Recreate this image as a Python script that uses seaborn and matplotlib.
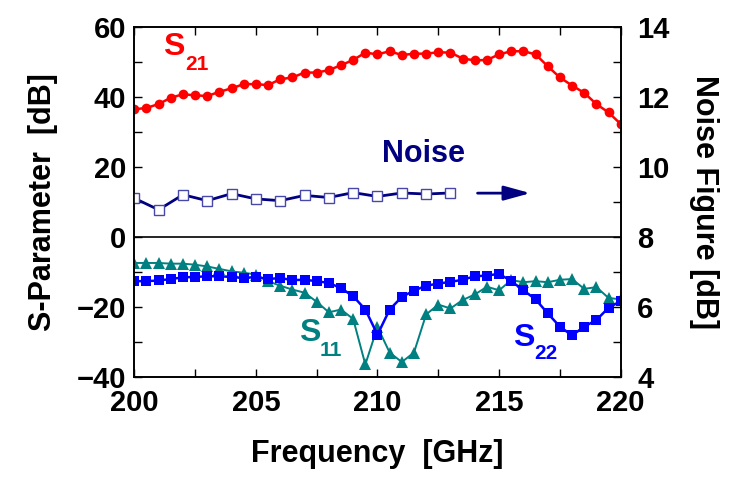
import numpy as np
import seaborn as sns
import matplotlib.pyplot as plt
from matplotlib.ticker import MultipleLocator

# frequency sweep [GHz]
freq = np.arange(200, 220.5, 0.5)

s21 = [36.4, 36.8, 37.9, 39.7, 40.7, 40.4, 40.2, 41.4, 42.4, 43.6,
       43.6, 43.3, 45.0, 45.5, 46.9, 46.9, 47.6, 49.0, 50.5, 52.6,
       52.1, 53.0, 51.9, 52.3, 52.3, 52.7, 52.6, 50.9, 50.4, 50.5,
       52.1, 53.0, 53.0, 52.1, 48.7, 45.5, 43.2, 41.1, 37.9, 35.5, 32.2]

s11 = [-7.5, -7.5, -7.5, -7.7, -7.7, -8.0, -8.5, -9.2, -9.9, -10.3,
       -10.8, -12.7, -14.0, -15.1, -16.0, -18.6, -21.6, -20.8, -23.5, -36.5,
       -25.8, -33.1, -35.8, -33.1, -22.2, -19.4, -20.5, -18.1, -16.5, -14.3,
       -15.3, -12.4, -13.0, -12.7, -13.0, -12.3, -12.1, -14.9, -14.4, -17.5, -17.9]

s22 = [-12.7, -12.7, -12.5, -12.1, -11.6, -11.5, -11.3, -11.3, -11.5, -11.8,
       -11.5, -12.1, -11.8, -12.4, -12.3, -12.7, -13.2, -14.7, -17.0, -20.8,
       -28.0, -20.8, -17.2, -15.4, -14.0, -13.4, -12.9, -12.3, -11.3, -11.1,
       -10.6, -12.7, -15.3, -17.9, -21.9, -25.7, -28.2, -25.7, -23.8, -20.3, -18.4]

nf_freq = np.arange(200, 214, 1)
nf = [9.10, 8.77, 9.20, 9.03, 9.23, 9.08, 9.03, 9.18, 9.12, 9.26, 9.15, 9.25, 9.22, 9.25]

sns.set_style("ticks")
plt.rcParams['font.family'] = ['Liberation Sans', 'DejaVu Sans']
plt.rcParams['font.weight'] = 'bold'
plt.rcParams['axes.linewidth'] = 1.2
for k in ['text.color', 'axes.labelcolor', 'xtick.color', 'ytick.color', 'axes.edgecolor']:
    plt.rcParams[k] = 'black'

fig = plt.figure(figsize=(7.33, 4.78), dpi=100)
ax = fig.add_axes([0.1832, 0.2119, 0.6636, 0.7322])
ax2 = ax.twinx()

ax.axhline(0, color='black', lw=1.2, zorder=1)

sns.lineplot(x=freq, y=s21, ax=ax, color='#FF0000', marker='o',
             markersize=7, markeredgewidth=0, linewidth=1.8)
sns.lineplot(x=freq, y=s11, ax=ax, color='#008080', marker='^',
             markersize=8.5, markeredgewidth=0, linewidth=1.4)
sns.lineplot(x=freq, y=s22, ax=ax, color='#0000FF', marker='s',
             markersize=6.5, markeredgewidth=0, linewidth=1.8)

sns.lineplot(x=nf_freq, y=nf, ax=ax2, color='#000080', marker='s',
             markersize=7, markerfacecolor='white', markeredgecolor='#4848a8',
             markeredgewidth=1.0, linewidth=2)
ax2.annotate('', xy=(216.4, 9.245), xytext=(214.0, 9.245),
             arrowprops=dict(arrowstyle='-|>,head_length=0.8,head_width=0.22',
                             color='#000080', lw=2, mutation_scale=20))

ax.set_xlim(200, 220)
ax.set_ylim(-40, 60)
ax2.set_ylim(4, 14)

ax.xaxis.set_major_locator(MultipleLocator(5))
ax.xaxis.set_minor_locator(MultipleLocator(2.5))
ax.yaxis.set_major_locator(MultipleLocator(20))
ax.yaxis.set_minor_locator(MultipleLocator(10))
ax2.yaxis.set_major_locator(MultipleLocator(2))
ax2.yaxis.set_minor_locator(MultipleLocator(1))

ax.tick_params(which='both', direction='in', length=6, width=1,
               top=True, right=False, labelsize=21)
ax.tick_params(axis='x', pad=9)
ax.tick_params(axis='y', pad=6)
ax2.tick_params(which='both', direction='in', length=6, width=1,
                labelsize=21, pad=12)

ax.set_xlabel('Frequency  [GHz]', fontsize=22, fontweight='bold', labelpad=16)
ax.set_ylabel('S-Parameter  [dB]', fontsize=22, fontweight='bold', labelpad=13)
ax2.set_ylabel('Noise Figure [dB]', fontsize=22, fontweight='bold',
               rotation=270, va='bottom', labelpad=14)

# curve labels
ax.text(201.18, 51.9, 'S', color='#FF0000', fontsize=23, fontweight='bold')
ax.text(202.08, 47.6, '21', color='#FF0000', fontsize=15, fontweight='bold')
ax.text(210.18, 21.4, 'Noise', color='#000080', fontsize=22, fontweight='bold')
ax.text(206.77, -29.9, 'S', color='#008080', fontsize=23, fontweight='bold')
ax.text(207.64, -34.2, '11', color='#008080', fontsize=15, fontweight='bold')
ax.text(215.57, -31.3, 'S', color='#0000FF', fontsize=23, fontweight='bold')
ax.text(216.44, -35.0, '22', color='#0000FF', fontsize=15, fontweight='bold')

fig.savefig('out.png', dpi=100)
